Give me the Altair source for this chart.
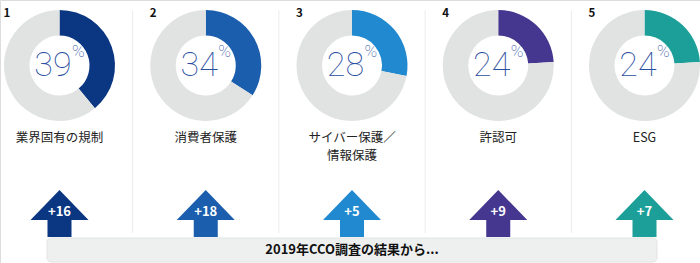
import math
import altair as alt
import pandas as pd

# ---- data ----
idx = [0, 1, 2, 3, 4]
nums = ["1", "2", "3", "4", "5"]
labels = ["業界固有の規制", "消費者保護", "サイバー保護／\n情報保護", "許認可", "ESG"]
pcts = [39, 34, 28, 24, 24]
changes = ["+16", "+18", "+5", "+9", "+7"]
colors = ["#0b3682", "#1b5ead", "#2189cf", "#45368f", "#1c9f99"]
ring_gray = "#e1e2e2"
footer = "2019年CCO調査の結果から..."

# ---- tables ----
arc_rows = []
for i, p, c in zip(idx, pcts, colors):
    arc_rows.append({"idx": i, "start": 0, "end": p, "color": c})
    arc_rows.append({"idx": i, "start": p, "end": 100, "color": ring_gray})
arcs_df = pd.DataFrame(arc_rows)

cols_df = pd.DataFrame({
    "idx": idx, "num": nums, "label": labels, "pct": [str(p) for p in pcts],
    "change": changes, "color": colors,
})
sep_df = pd.DataFrame({"idx": [i + 0.5 for i in idx[:-1]]})
foot_df = pd.DataFrame({"text": [footer]})

X = alt.X("idx:Q", scale=alt.Scale(domain=[0, 4], range=[59.5, 644.5]), axis=None, stack=None)

base = alt.Chart(cols_df)

seps = alt.Chart(sep_df).mark_rule(color="#ececec", strokeWidth=1).encode(
    x=X, y=alt.value(10), y2=alt.value(233)
)

rings = alt.Chart(arcs_df).mark_arc(outerRadius=55.5, innerRadius=30).encode(
    x=X,
    y=alt.value(65.5),
    theta=alt.Theta("start:Q", scale=alt.Scale(domain=[0, 100], range=[0, 2 * math.pi]), stack=None),
    theta2="end:Q",
    color=alt.Color("color:N", scale=None),
)

pct_text = base.mark_text(
    align="right", baseline="middle", dx=12, font="Roboto", fontWeight=100,
    fontSize=34, color="#2a4ea0"
).encode(x=X, y=alt.value(65.5), text="pct:N")

pct_sign = base.mark_text(
    align="left", baseline="middle", dx=12.5, font="Roboto", fontWeight=100,
    fontSize=17, color="#2a4ea0"
).encode(x=X, y=alt.value(51.5), text=alt.value("%"))

cat_text = base.mark_text(
    align="center", baseline="middle", font="Noto Sans CJK JP", fontSize=12.5,
    color="#222222", lineBreak="\n", lineHeight=18
).encode(x=X, y=alt.value(137.5), text="label:N")

num_text = base.mark_text(
    align="left", baseline="middle", dx=-56, font="Noto Sans CJK JP", fontWeight="bold",
    fontSize=11.5, color="#111111"
).encode(x=X, y=alt.value(13.5), text="num:N")

arrow_path = "M0,-0.81 L1,0.224 L0.414,0.224 L0.414,0.81 L-0.414,0.81 L-0.414,0.224 L-1,0.224 Z"
arrows = base.mark_point(
    shape=arrow_path, filled=True, size=58 * 58, opacity=1, strokeWidth=0
).encode(x=X, y=alt.value(213.5), color=alt.Color("color:N", scale=None))

arrow_text = base.mark_text(
    align="center", baseline="middle", font="Noto Sans CJK JP", fontWeight="bold",
    fontSize=13, color="white"
).encode(x=X, y=alt.value(212), text="change:N")

box = alt.Chart(foot_df).mark_rect(
    cornerRadius=4, fill="#eef0f0", stroke="#e2e4e4", strokeWidth=1
).encode(x=alt.value(47), x2=alt.value(657), y=alt.value(238), y2=alt.value(262))

box_text = alt.Chart(foot_df).mark_text(
    align="center", baseline="middle", font="Noto Sans CJK JP", fontWeight="bold",
    fontSize=13, color="#111111"
).encode(x=alt.value(352), y=alt.value(250), text="text:N")

chart = alt.layer(
    seps, rings, pct_text, pct_sign, cat_text, num_text, arrows, arrow_text, box, box_text
).properties(
    width=700, height=263,
    autosize=alt.AutoSizeParams(type="none"),
    padding=0,
).configure_view(stroke=None).configure(background="white")

chart.save("out.html", embed_options={"renderer": "svg", "actions": False})
